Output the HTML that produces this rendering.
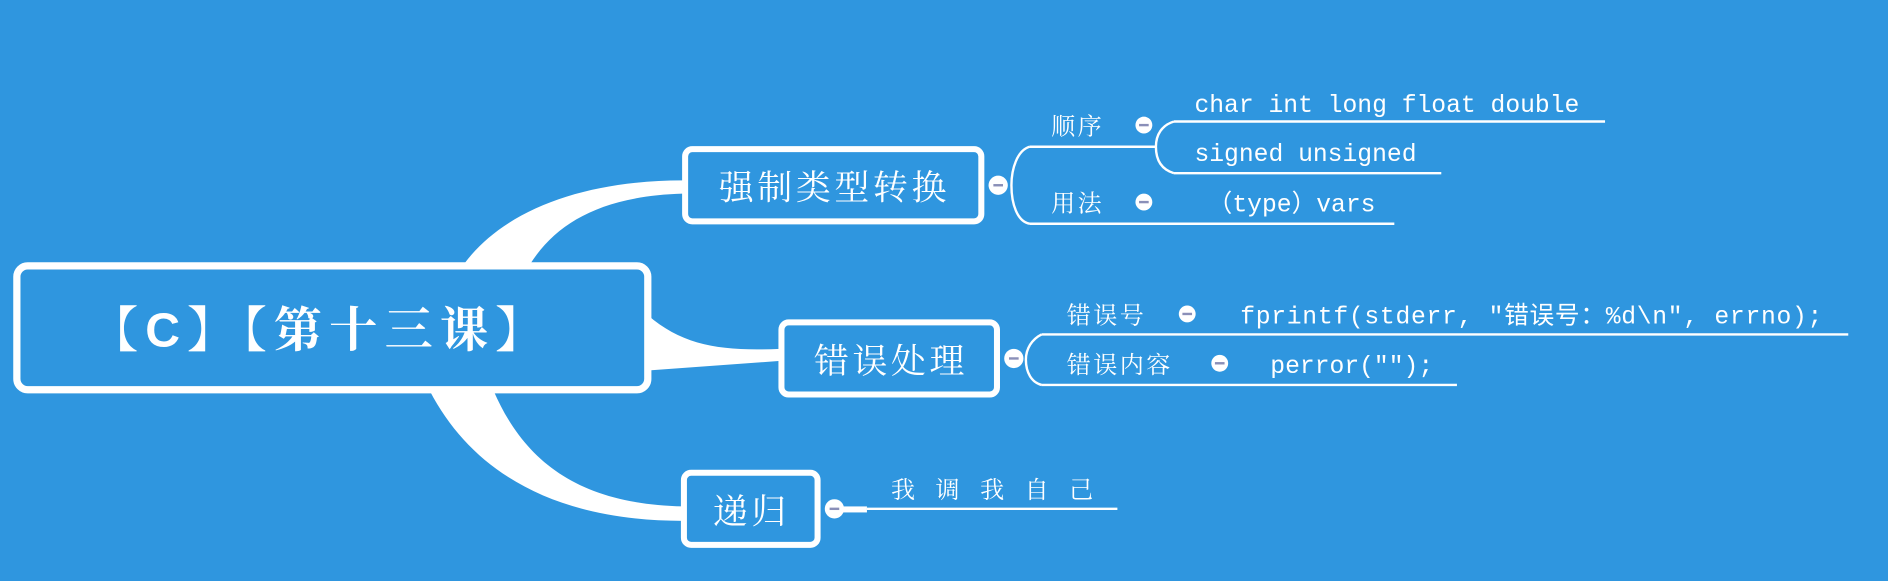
<!DOCTYPE html>
<html><head><meta charset="utf-8"><style>
html,body{margin:0;padding:0;background:#2f96df;}
svg{display:block}
text{fill:#fff;font-family:"Liberation Sans","Noto Serif CJK SC","Noto Sans CJK SC",sans-serif;}
.m{font-family:"Liberation Mono","Noto Sans CJK SC",monospace;}
</style></head><body>
<svg width="1888" height="581" viewBox="0 0 1568 483" preserveAspectRatio="none" xmlns="http://www.w3.org/2000/svg">
<rect width="1568" height="483" fill="#2f96df"/>
<path d="M385,220 C420,172 490,150 567,150 L567,161 C500,163 462,185 440,220 Z" fill="#fff"/>
<path d="M538,262 C568,288 600,292 648,290 L648,300 L538,308 Z" fill="#fff"/>
<path d="M357,325 C392,392 460,433 567,433 L567,421 C482,419 436,385 410,325 Z" fill="#fff"/>
<rect x="14" y="221" width="524" height="103" rx="9" fill="#2f96df" stroke="#fff" stroke-width="6"/>
<text x="266" y="288" font-size="40" font-weight="bold" text-anchor="middle" letter-spacing="6" font-family="'Liberation Sans','Noto Sans CJK SC',sans-serif">【C】【第十三课】</text>
<rect x="569" y="124" width="246" height="60" rx="6" fill="#2f96df" stroke="#fff" stroke-width="5"/>
<text x="693" y="166" font-size="29" text-anchor="middle" letter-spacing="3">强制类型转换</text>
<rect x="649" y="268" width="179" height="60" rx="6" fill="#2f96df" stroke="#fff" stroke-width="5"/>
<text x="740" y="310" font-size="29" text-anchor="middle" letter-spacing="3">错误处理</text>
<rect x="568" y="393" width="111" height="60" rx="6" fill="#2f96df" stroke="#fff" stroke-width="5"/>
<text x="624" y="435" font-size="29" text-anchor="middle" letter-spacing="3">递归</text>
<g fill="none" stroke="#fff" stroke-width="2">
<path d="M855,122 C845,125 840,140 840,154 C840,170 845,184 855,186"/>
<line x1="855" y1="122" x2="960" y2="122"/>
<path d="M975,101 C965,104 960,112 960,122 C960,134 965,141 975,144"/>
<line x1="975" y1="101" x2="1333" y2="101"/>
<line x1="975" y1="144" x2="1197" y2="144"/>
<line x1="855" y1="186" x2="1158" y2="186"/>
<path d="M865,278 C857,282 852,290 852,299 C852,310 857,318 865,320"/>
<line x1="865" y1="278" x2="1535" y2="278"/>
<line x1="865" y1="320" x2="1210" y2="320"/>
<line x1="720" y1="423" x2="928" y2="423"/>
</g>
<rect x="700" y="421" width="20" height="5" fill="#fff"/>
<g>
<circle cx="829" cy="154" r="8" fill="#fff"/><rect x="825" y="153" width="8" height="2" fill="#8a8fb8"/>
<circle cx="950" cy="104" r="7" fill="#fff"/><rect x="946" y="103" width="8" height="2" fill="#8a8fb8"/>
<circle cx="950" cy="168" r="7" fill="#fff"/><rect x="946" y="167" width="8" height="2" fill="#8a8fb8"/>
<circle cx="842" cy="298" r="8" fill="#fff"/><rect x="838" y="297" width="8" height="2" fill="#8a8fb8"/>
<circle cx="986" cy="261" r="7" fill="#fff"/><rect x="982" y="260" width="8" height="2" fill="#8a8fb8"/>
<circle cx="1013" cy="302" r="7" fill="#fff"/><rect x="1009" y="301" width="8" height="2" fill="#8a8fb8"/>
<circle cx="693" cy="423" r="8" fill="#fff"/><rect x="689" y="422" width="8" height="2" fill="#8a8fb8"/>
</g>
<text x="873" y="112" font-size="20" letter-spacing="2">顺序</text>
<text x="873" y="176" font-size="20" letter-spacing="2">用法</text>
<text class="m" x="992" y="93" font-size="20.5">char int long float double</text>
<text class="m" x="992" y="134" font-size="20.5">signed unsigned</text>
<text class="m" x="1003" y="176" font-size="20.5">（type）vars</text>
<text x="886" y="269" font-size="20" letter-spacing="2">错误号</text>
<text x="886" y="310" font-size="20" letter-spacing="2">错误内容</text>
<text class="m" x="1030" y="269" font-size="20.5" letter-spacing="0.6">fprintf(stderr, "错误号：%d\n", errno);</text>
<text class="m" x="1055" y="310" font-size="20.5">perror("");</text>
<text x="740" y="414" font-size="20" letter-spacing="17">我调我自己</text>
</svg>
</body></html>
